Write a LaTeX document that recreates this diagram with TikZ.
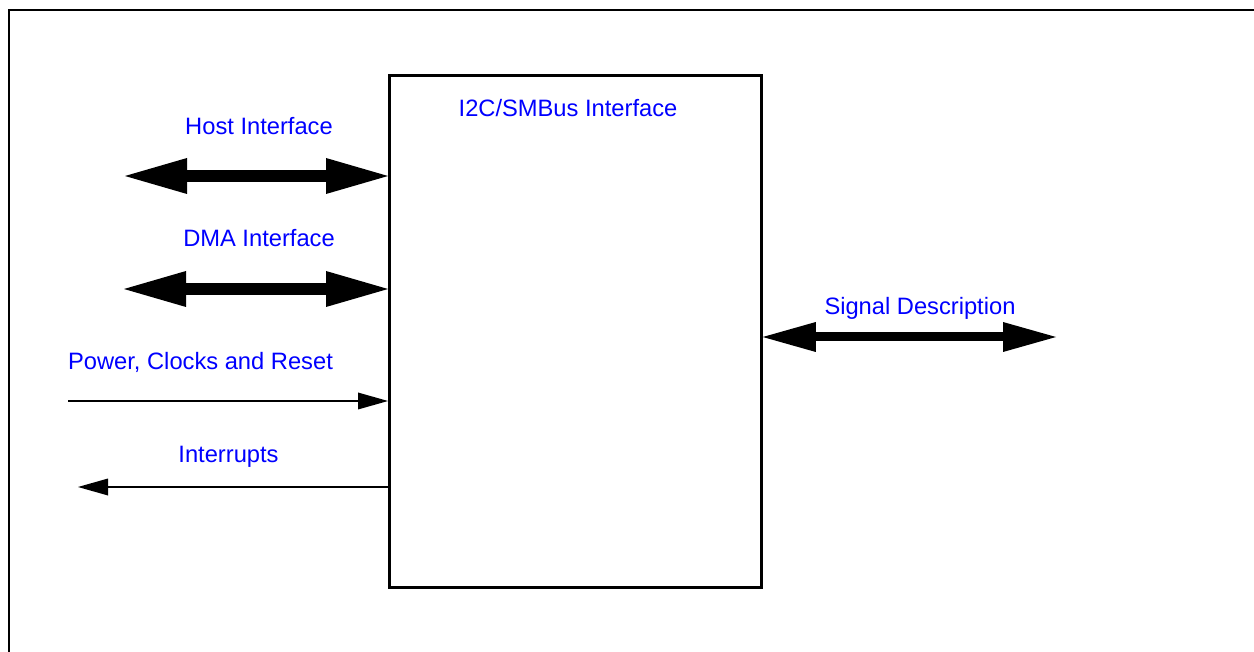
\documentclass[tikz,border=0pt]{standalone}
\usepackage{fontspec}
\setmainfont{Liberation Sans}
\usetikzlibrary{arrows.meta}
\begin{document}
\begin{tikzpicture}[x=0.5pt,y=-0.5pt,
  lbl/.style={text=blue, inner sep=0pt, anchor=base, font=\fontsize{11.85}{14}\selectfont},
  bigarrow/.style={line width=6pt, {Triangle[length=31pt,width=18pt,line width=0pt]}-{Triangle[length=31pt,width=18pt,line width=0pt]}},
  sigarrow/.style={line width=4.5pt, {Triangle[length=26.5pt,width=15pt,line width=0pt]}-{Triangle[length=26.5pt,width=15pt,line width=0pt]}},
  thinarrow/.style={line width=1pt, -{Triangle[length=15pt,width=8.5pt,line width=0pt]}},
  blockbox/.style={draw, line width=1.4pt, minimum width=186pt, minimum height=256pt, inner sep=0pt, anchor=north west}
]
\useasboundingbox (0,0) rectangle (1254,652);
\clip (0,0) rectangle (1254,652);
\draw[line width=1.2pt] (9,10) rectangle (1270,670);
\node[blockbox] (blk) at (388,74) {};
\node[lbl] (title) at (568,117) {I2C/SMBus Interface};
% labels
\node[lbl] (hostl) at (259,134.3) {Host Interface};
\node[lbl] (dmal) at (259,246.7) {DMA Interface};
\node[lbl] (pwrl) at (200.5,369.3) {Power, Clocks and Reset};
\node[lbl] (intl) at (228.5,463) {Interrupts};
\node[lbl] (sigl) at (920,314.3) {Signal Description};
% free ends
\coordinate (hostend) at (125,176);
\coordinate (dmaend) at (124,289);
\coordinate (pwrend) at (68,401);
\coordinate (intend) at (78,487);
\coordinate (sigend) at (1056,337);
% connectors
\draw[bigarrow] (hostend) -- (hostend -| blk.west);
\draw[bigarrow] (dmaend) -- (dmaend -| blk.west);
\draw[thinarrow] (pwrend) -- (pwrend -| blk.west);
\draw[thinarrow] (intend -| blk.west) -- (intend);
\draw[sigarrow] (sigend -| blk.east) -- (sigend);
\end{tikzpicture}
\end{document}
